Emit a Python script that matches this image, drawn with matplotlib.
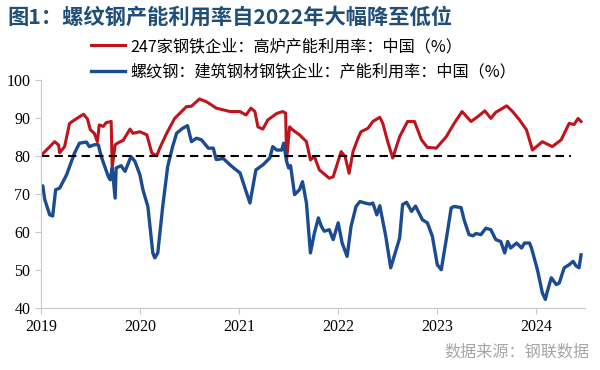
import numpy as np
import matplotlib
matplotlib.use("Agg")
import matplotlib.pyplot as plt

plt.rcParams['font.family'] = ['Noto Sans CJK SC', 'DejaVu Sans']

# 247家钢铁企业 高炉产能利用率 (time as decimal year)
red_t = [2019.00, 2019.14, 2019.18, 2019.19, 2019.24, 2019.29, 2019.34, 2019.43, 2019.47, 2019.50,
         2019.54, 2019.57, 2019.59, 2019.63, 2019.66, 2019.71, 2019.72, 2019.75, 2019.80, 2019.83,
         2019.90, 2019.93, 2020.00, 2020.07, 2020.12, 2020.17, 2020.20, 2020.27, 2020.35, 2020.47,
         2020.52, 2020.60, 2020.67, 2020.77, 2020.91, 2021.01, 2021.07, 2021.12, 2021.16, 2021.19,
         2021.24, 2021.29, 2021.38, 2021.44, 2021.47, 2021.48, 2021.51, 2021.54, 2021.61, 2021.68,
         2021.72, 2021.76, 2021.81, 2021.91, 2021.95, 2022.03, 2022.07, 2022.11, 2022.15, 2022.20,
         2022.23, 2022.30, 2022.35, 2022.42, 2022.45, 2022.50, 2022.55, 2022.62, 2022.70, 2022.77,
         2022.84, 2022.90, 2022.99, 2023.09, 2023.17, 2023.25, 2023.34, 2023.41, 2023.48, 2023.54,
         2023.59, 2023.70, 2023.76, 2023.83, 2023.90, 2023.96, 2024.06, 2024.16, 2024.25, 2024.33,
         2024.38, 2024.42, 2024.45]
red_v = [80.0, 83.7, 82.8, 80.8, 82.4, 88.5, 89.4, 90.9, 89.7, 86.8,
         85.9, 83.7, 88.1, 87.7, 88.7, 89.0, 76.8, 82.9, 83.7, 84.0,
         87.0, 85.9, 86.3, 85.5, 80.7, 80.0, 82.0, 85.9, 89.8, 92.9,
         93.0, 94.9, 94.2, 92.5, 91.6, 91.6, 90.7, 92.5, 91.6, 87.6,
         87.0, 89.4, 91.1, 91.6, 91.2, 79.0, 87.6, 86.8, 85.5, 83.7,
         78.9, 79.8, 76.3, 74.1, 74.5, 81.1, 79.8, 75.4, 81.1, 84.6,
         86.3, 87.2, 89.0, 90.1, 88.5, 83.7, 79.4, 85.0, 89.0, 89.0,
         84.2, 82.2, 82.0, 85.0, 88.5, 91.6, 89.0, 90.3, 91.8, 89.8,
         91.4, 93.1, 91.6, 89.4, 86.8, 81.5, 83.7, 82.4, 84.2, 88.5,
         88.2, 89.8, 89.0]

# 螺纹钢 建筑钢材钢铁企业 产能利用率
blue_t = [2019.00, 2019.02, 2019.04, 2019.09, 2019.12, 2019.15, 2019.19, 2019.26, 2019.34, 2019.39,
          2019.46, 2019.49, 2019.54, 2019.58, 2019.61, 2019.68, 2019.70, 2019.72, 2019.75, 2019.76,
          2019.81, 2019.85, 2019.91, 2019.95, 2020.00, 2020.03, 2020.08, 2020.13, 2020.15, 2020.18,
          2020.23, 2020.28, 2020.33, 2020.37, 2020.43, 2020.48, 2020.52, 2020.57, 2020.62, 2020.69,
          2020.74, 2020.77, 2020.84, 2020.91, 2020.96, 2021.01, 2021.06, 2021.11, 2021.14, 2021.17,
          2021.24, 2021.31, 2021.34, 2021.38, 2021.43, 2021.45, 2021.48, 2021.50, 2021.52, 2021.56,
          2021.61, 2021.64, 2021.68, 2021.72, 2021.76, 2021.80, 2021.83, 2021.86, 2021.91, 2021.95,
          2022.00, 2022.04, 2022.09, 2022.13, 2022.18, 2022.22, 2022.27, 2022.32, 2022.35, 2022.39,
          2022.42, 2022.48, 2022.53, 2022.59, 2022.62, 2022.65, 2022.69, 2022.74, 2022.78, 2022.85,
          2022.90, 2022.95, 2023.00, 2023.04, 2023.09, 2023.14, 2023.17, 2023.24, 2023.27, 2023.32,
          2023.36, 2023.39, 2023.44, 2023.49, 2023.54, 2023.59, 2023.64, 2023.68, 2023.71, 2023.74,
          2023.80, 2023.85, 2023.88, 2023.93, 2023.95, 2024.01, 2024.06, 2024.09, 2024.11, 2024.15,
          2024.20, 2024.23, 2024.28, 2024.33, 2024.37, 2024.40, 2024.43, 2024.45]
blue_v = [72.0, 72.1, 68.5, 64.5, 64.2, 71.1, 71.5, 75.0, 80.7, 83.3,
          83.6, 82.4, 82.9, 82.9, 79.8, 74.6, 73.7, 76.8, 68.9, 76.8,
          77.4, 75.9, 79.8, 78.5, 75.0, 71.1, 66.7, 54.5, 53.2, 54.5,
          66.7, 77.2, 82.4, 85.9, 87.2, 87.9, 83.7, 84.6, 84.2, 82.0,
          82.0, 79.0, 79.3, 77.6, 76.5, 75.5, 71.5, 67.6, 71.9, 76.3,
          77.6, 79.4, 82.4, 81.5, 81.5, 83.3, 78.5, 76.8, 77.4, 69.8,
          71.1, 73.2, 67.6, 54.5, 59.7, 63.7, 61.5, 60.2, 60.6, 58.0,
          62.4, 57.1, 53.6, 61.5, 66.7, 68.0, 67.6, 67.3, 67.6, 64.5,
          66.9, 58.9, 50.6, 55.8, 58.4, 67.2, 67.8, 65.4, 66.8, 63.2,
          62.4, 58.9, 51.4, 50.1, 58.0, 66.3, 66.7, 66.4, 63.2, 59.3,
          59.0, 59.6, 59.3, 61.0, 60.6, 58.0, 57.5, 54.5, 57.5, 55.8,
          57.1, 55.8, 57.1, 57.1, 55.8, 50.1, 44.0, 42.3, 44.4, 48.0,
          46.2, 46.6, 50.6, 51.4, 52.3, 51.1, 50.6, 54.0]

ref_t = [2019.00, 2024.35]
ref_v = [80, 80]

years = [2019, 2020, 2021, 2022, 2023, 2024]
red_label = "247家钢铁企业：高炉产能利用率：中国（%）"
blue_label = "螺纹钢：建筑钢材钢铁企业：产能利用率：中国（%）"

fig = plt.figure(figsize=(6, 3.7), dpi=100)
ax = fig.add_axes([0.068, 0.167, 0.907, 0.618])

ax.plot(red_t, red_v, color="#c0141c", lw=2.2, label=red_label)
ax.plot(blue_t, blue_v, color="#1b4b91", lw=2.4, label=blue_label)
ax.plot(ref_t, ref_v, color="black", lw=1.5, ls=(0, (4, 2.5)))

ax.set_xlim(2019, 2024.49)
ax.set_ylim(40, 100)
ax.set_xticks(years)
ax.set_xticklabels([str(y) for y in years])
ax.set_yticks(range(40, 101, 10))

for s in ["top", "right"]:
    ax.spines[s].set_visible(False)
for s in ["left", "bottom"]:
    ax.spines[s].set_color("#c8c8c8")
    ax.spines[s].set_linewidth(0.8)
ax.tick_params(axis="both", colors="#c8c8c8", labelcolor="black", length=4, width=0.8)
for lab in ax.get_xticklabels() + ax.get_yticklabels():
    lab.set_fontfamily("Liberation Serif")
    lab.set_fontsize(11.5)

fig.legend(loc="upper left", bbox_to_anchor=(0.152, 0.897), frameon=False,
           fontsize=11.6, handlelength=2.1, handletextpad=0.3, labelspacing=0.5,
           borderpad=0, borderaxespad=0)

fig.text(0.013, 0.953, "图1：螺纹钢产能利用率自2022年大幅降至低位", fontsize=15.3,
         fontweight="bold", color="#1f4e79", ha="left", va="center")
fig.text(0.983, 0.048, "数据来源：钢联数据", fontsize=11.6, color="#a6a6a6",
         ha="right", va="center")

fig.savefig("out.png", dpi=100)
